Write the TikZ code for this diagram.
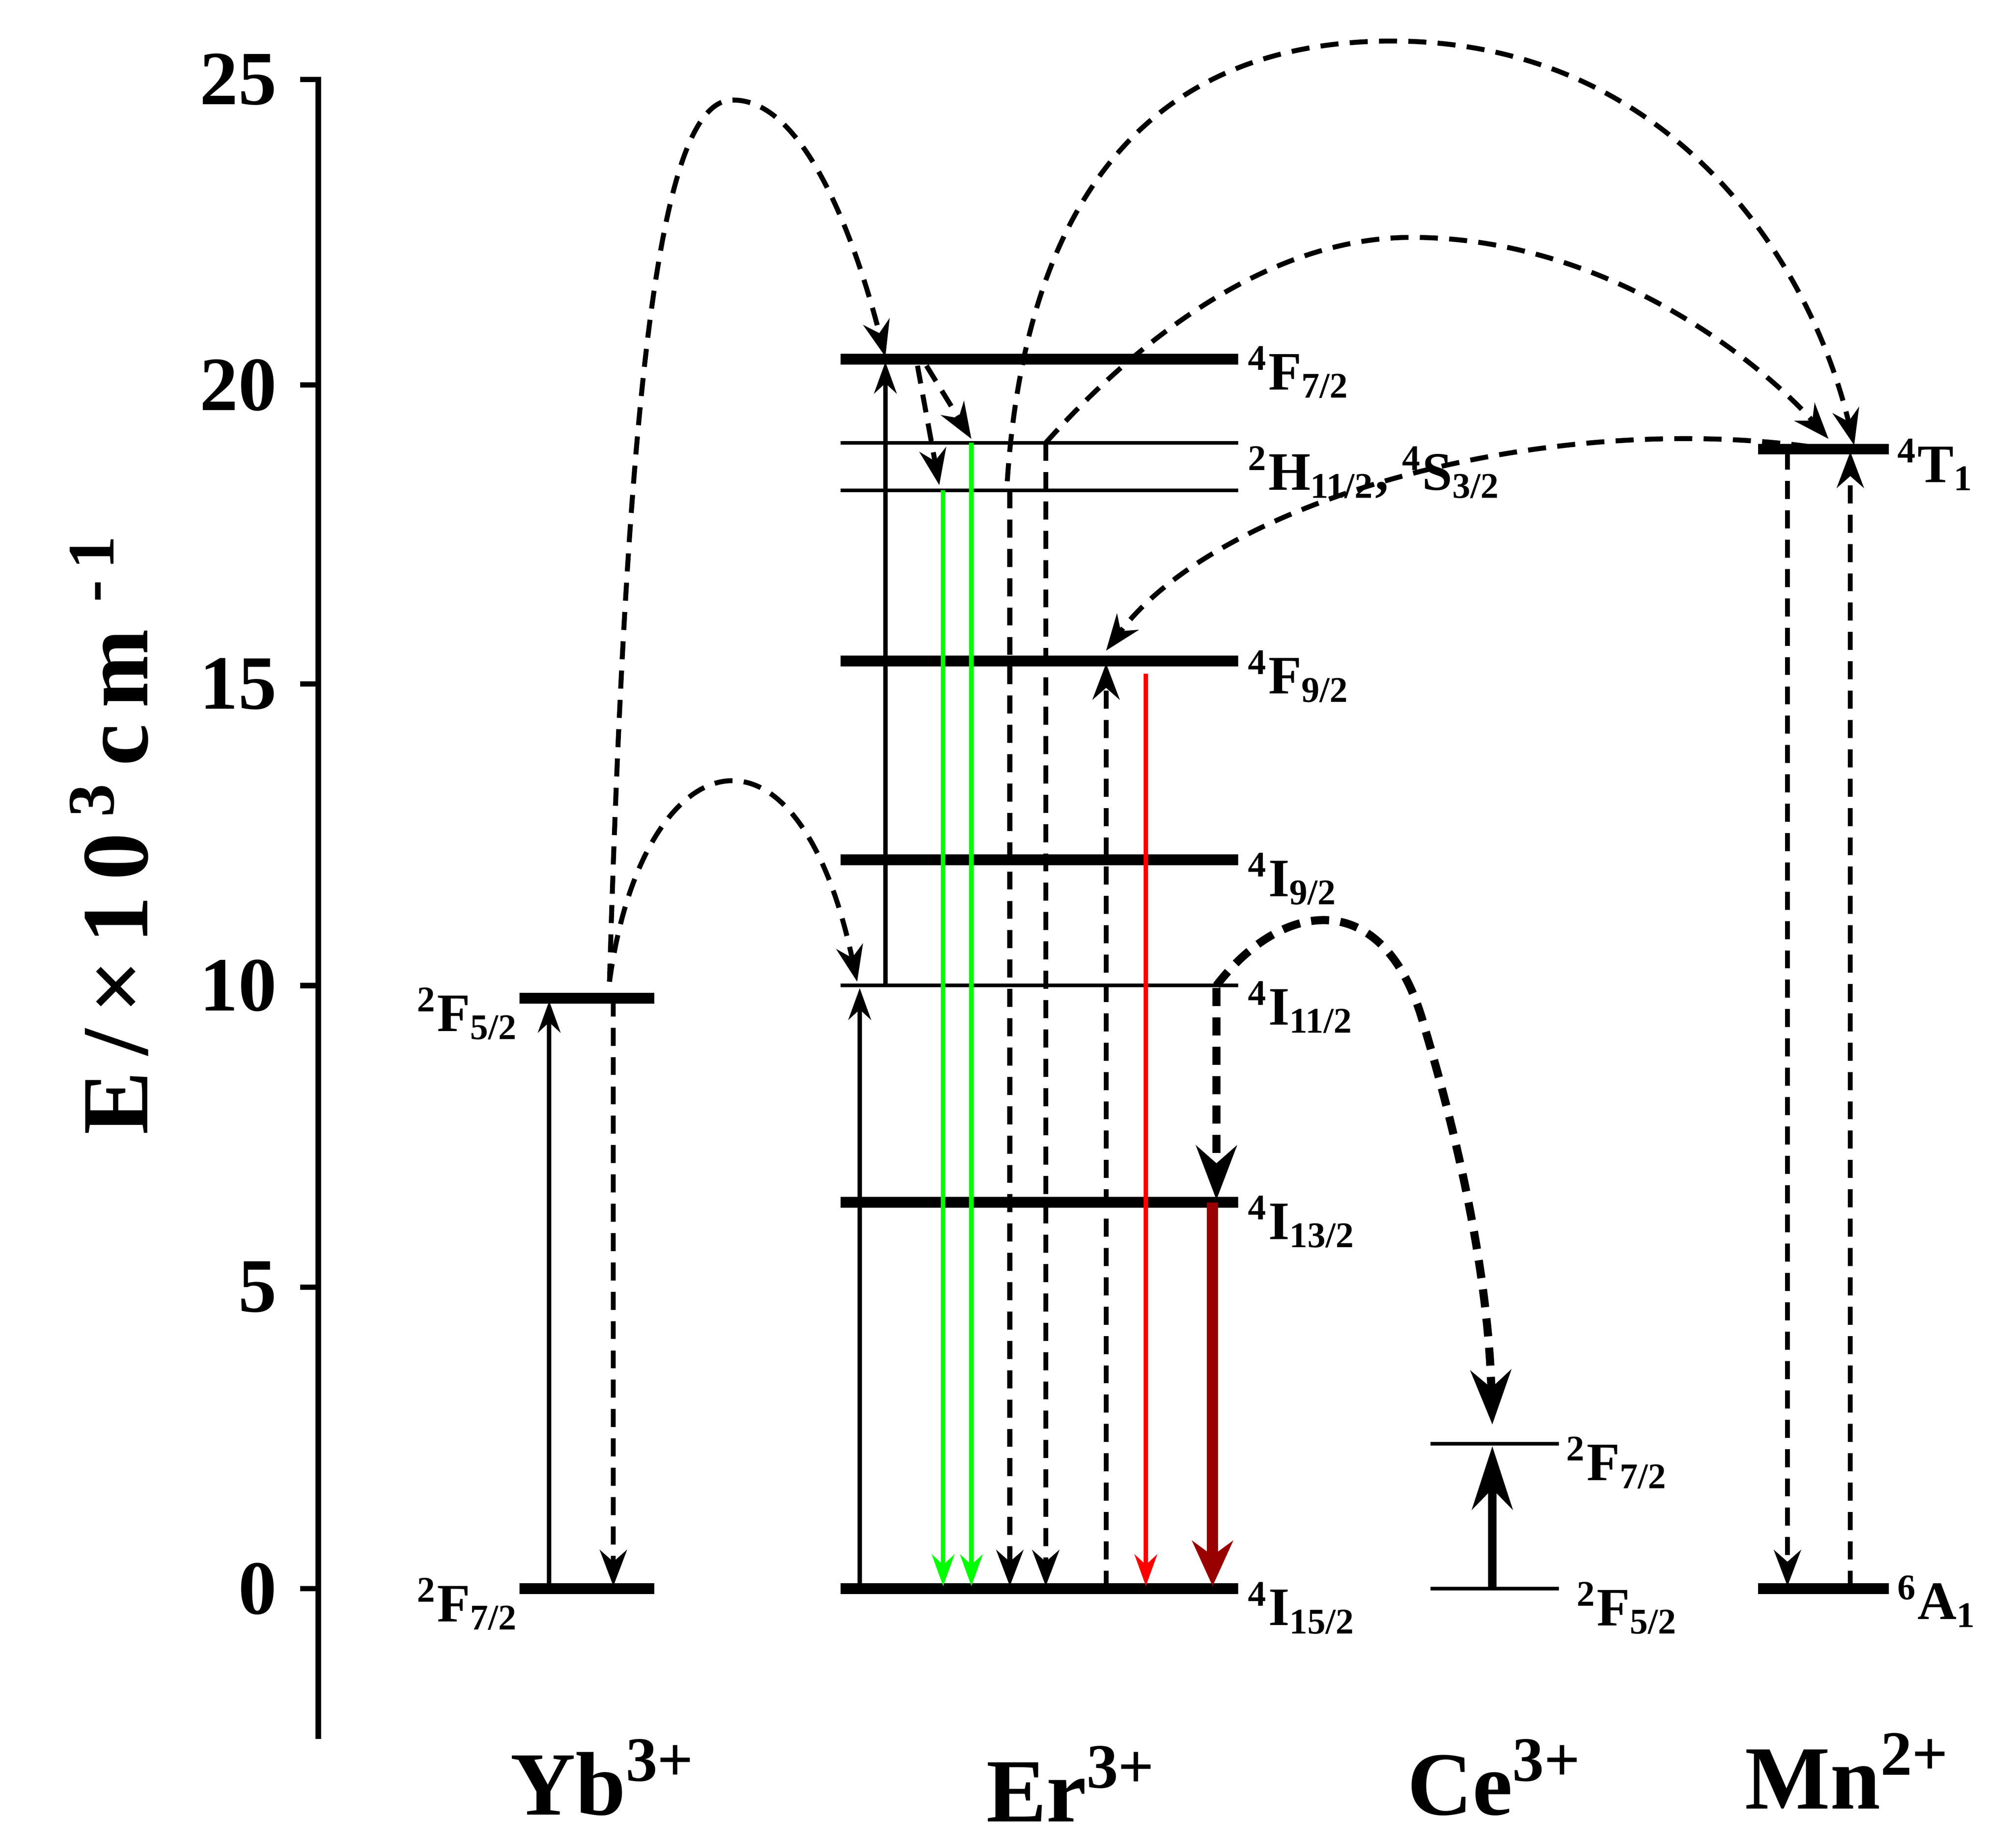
\documentclass[tikz,border=0pt]{standalone}
\usepackage{fontspec}
\setmainfont{Liberation Serif}
\usetikzlibrary{arrows.meta}
\newcommand{\sps}[1]{\textsuperscript{#1}}
\newcommand{\sbs}[1]{\textsubscript{#1}}
\begin{document}
\begin{tikzpicture}[x=0.01cm,y=-0.01cm,
 thicklev/.style={line width=2.4pt},
 thinlev/.style={line width=0.8pt},
 up/.style={line width=1pt,-{Stealth[length=7pt,width=5pt]}},
 dsh/.style={line width=1.1pt,dashed,dash pattern=on 4pt off 2.5pt,-{Stealth[length=8pt,width=6pt]}},
 lab/.style={font=\fontsize{12}{13}\selectfont\bfseries,anchor=west,inner sep=0pt},
 tick/.style={font=\fontsize{17}{18}\selectfont\bfseries,anchor=east},
 ion/.style={font=\fontsize{20}{22}\selectfont\bfseries}]
\useasboundingbox (0,0) rectangle (1568,1440);
\fill[white] (0,0) rectangle (1568,1440);
% axis
\draw[line width=1.2pt] (248,60) -- (248,1355);
\foreach \v/\y in {25/62,20/300,15/533,10/768,5/1003,0/1238}{
 \draw[line width=1.2pt] (234,\y) -- (248,\y);
 \node[tick] at (228,\y) {\v};}
\node[rotate=90,font=\fontsize{21}{24}\selectfont\bfseries] (ylab) at (85,650) {E\,/\,×\,1\,0\,\sps{3}\,c\,m\,\sps{\,-\,1}};
% Yb
\draw[thicklev] (405,778) -- (510,778); \draw[thicklev] (405,1238) -- (510,1238);
\node[lab,anchor=east] at (405,790) {\sps{2}F\sbs{5/2}};
\node[lab,anchor=east] at (405,1250) {\sps{2}F\sbs{7/2}};
\draw[up] (428,1238) -- (428,780);
\draw[dsh] (478,778) -- (478,1236);
% Er levels
\draw[thicklev] (655,280) -- (965,280);
\draw[thinlev] (655,345) -- (965,345);
\draw[thinlev] (655,382) -- (965,382);
\draw[thicklev] (655,515) -- (965,515);
\draw[thicklev] (655,670) -- (965,670);
\draw[thinlev] (655,768) -- (965,768);
\draw[thicklev] (655,937) -- (965,937);
\draw[thicklev] (655,1238) -- (965,1238);
\node[lab] at (972,290) {\sps{4}F\sbs{7/2}};
\node[lab] at (972,368) {\sps{2}H\sbs{11/2}, \sps{4}S\sbs{3/2}};
\node[lab] at (972,527) {\sps{4}F\sbs{9/2}};
\node[lab] at (972,685) {\sps{4}I\sbs{9/2}};
\node[lab] at (972,785) {\sps{4}I\sbs{11/2}};
\node[lab] at (972,952) {\sps{4}I\sbs{13/2}};
\node[lab] at (972,1253) {\sps{4}I\sbs{15/2}};
% Er arrows
\draw[up] (670,1238) -- (670,770);
\draw[up] (690,768) -- (690,282);
\draw[line width=1pt,green,-{Stealth[length=7pt,width=5pt]}] (735,382) -- (735,1236);
\draw[line width=1pt,green,-{Stealth[length=7pt,width=5pt]}] (757,345) -- (757,1236);
\draw[dsh] (787,382) -- (787,1236);
\draw[dsh] (815,345) -- (815,1236);
\draw[dsh] (862,1238) -- (862,517);
\draw[line width=1pt,red,-{Stealth[length=7pt,width=5pt]}] (893,525) -- (893,1236);
\draw[line width=2.5pt,red!60!black,-{Stealth[length=10pt,width=9pt]}] (945,937) -- (945,1236);
\draw[dsh,line width=1.8pt,-{Stealth[length=12pt,width=9pt]}] (948,770) -- (948,935);
\draw[dsh] (715,285) -- (732,378);
\draw[dsh] (722,285) -- (757,342);
% curves
\draw[dsh] (475,765) .. controls (500,580) and (620,540) .. (668,765);
\draw[dsh] (475,765) .. controls (490,250) and (520,80) .. (570,78) .. controls (630,76) and (670,200) .. (690,278);
\draw[dsh] (785,375) .. controls (800,150) and (900,30) .. (1090,32) .. controls (1300,35) and (1410,200) .. (1445,347);
\draw[dsh] (815,345) .. controls (900,250) and (1000,185) .. (1100,185) .. controls (1250,185) and (1370,280) .. (1425,342);
\draw[dsh] (1410,348) .. controls (1200,320) and (950,390) .. (862,507);
\draw[dsh,line width=1.8pt,-{Stealth[length=12pt,width=9pt]}] (948,768) .. controls (1000,700) and (1080,690) .. (1110,800) .. controls (1140,900) and (1160,1000) .. (1163,1110);
% Ce
\draw[thinlev] (1115,1125) -- (1215,1125);
\draw[thinlev] (1115,1238) -- (1215,1238);
\draw[line width=1.8pt,-{Stealth[length=14pt,width=9pt]}] (1163,1238) -- (1163,1127);
\node[lab] at (1220,1140) {\sps{2}F\sbs{7/2}};
\node[lab] at (1228,1253) {\sps{2}F\sbs{5/2}};
% Mn
\draw[thicklev] (1370,350) -- (1472,350);
\draw[thicklev] (1370,1238) -- (1472,1238);
\node[lab] at (1478,362) {\sps{4}T\sbs{1}};
\node[lab] at (1478,1248) {\sps{6}A\sbs{1}};
\draw[dsh] (1393,352) -- (1393,1236);
\draw[dsh] (1442,1238) -- (1442,352);
% ions
\node[ion] (yb) at (470,1385) {Yb\sps{3+}};
\node[ion] (er) at (835,1390) {Er\sps{3+}};
\node[ion] (ce) at (1165,1385) {Ce\sps{3+}};
\node[ion] (mn) at (1440,1380) {Mn\sps{2+}};
\end{tikzpicture}
\end{document}
